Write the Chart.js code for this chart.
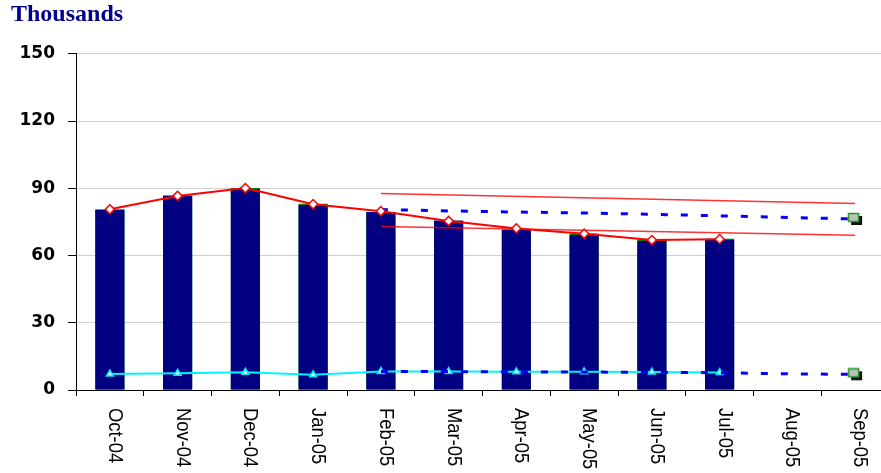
<!DOCTYPE html>
<html>
<head>
<meta charset="utf-8">
<script src="https://cdn.jsdelivr.net/npm/chart.js@4.4.0/dist/chart.umd.min.js"></script>
<style>
  html, body { margin: 0; padding: 0; background: #fff; overflow: hidden; }
  #wrap { width: 898px; height: 473px; }
</style>
</head>
<body>
<div id="wrap"><canvas id="chart" width="898" height="473"></canvas></div>
<script>
// categories
const months = ['Oct-04', 'Nov-04', 'Dec-04', 'Jan-05', 'Feb-05', 'Mar-05',
                'Apr-05', 'May-05', 'Jun-05', 'Jul-05', 'Aug-05', 'Sep-05'];
const yTicks = [0, 30, 60, 90, 120, 150];

// monthly bars (navy in front, green just behind)
const barFront = [80.5, 86.8, 89.6, 82.5, 79.4, 75.6, 71.6, 69.2, 66.5, 66.9, null, null];
const barBack  = [80.3, 86.6, 90.1, 83.1, 79.3, 75.4, 71.4, 69.8, 67.1, 67.5, null, null];

// red line with diamonds
const redLine = [80.6, 86.6, 90.1, 82.9, 79.8, 75.4, 72.1, 69.7, 66.9, 67.3, null, null];

// thin red band lines (Feb-05 to Sep-05)
const bandHigh = [null, null, null, null, 87.7, null, null, null, null, null, null, 83.2];
const bandLow  = [null, null, null, null, 73.0, null, null, null, null, null, null, 69.0];

// blue dashed projections
const projHigh = [null, null, null, null, 80.5, 79.9, 79.4, 79.0, 78.4, 77.7, 77.0, 76.3];
const projLow  = [null, null, null, null, 8.3, 8.2, 8.1, 8.0, 7.9, 7.7, 7.2, 7.0];

// cyan line with triangles
const cyanLine = [7.1, 7.5, 7.9, 6.8, 8.3, 8.2, 8.1, 8.1, 8.0, 7.8, null, null];

// grey square with shadow for the last projected point
function makeSquare() {
    const c = document.createElement('canvas');
    c.width = 16;
    c.height = 14;
    const g = c.getContext('2d');
    g.fillStyle = '#111';
    g.fillRect(4, 4, 11, 9);
    g.fillStyle = '#c0c0c0';
    g.fillRect(1, 1, 11, 9);
    g.strokeStyle = '#1f9a1f';
    g.lineWidth = 1.5;
    g.strokeRect(1.5, 1.5, 10, 8);
    return c;
}
const square = makeSquare();
const lastOnly = (ctx) => ctx.dataIndex === months.length - 1 ? 6 : 0;

// rotated month labels, reading top to bottom
const xLabels = {
    id: 'xLabels',
    afterDraw(chart) {
        const ctx = chart.ctx;
        const xs = chart.scales.x;
        ctx.save();
        ctx.font = '20px "Liberation Sans", Arial, sans-serif';
        ctx.fillStyle = '#000';
        ctx.textAlign = 'left';
        ctx.textBaseline = 'alphabetic';
        months.forEach((m, i) => {
            const x = xs.getPixelForValue(i);
            ctx.save();
            ctx.translate(x - 1, 408);
            ctx.rotate(Math.PI / 2);
            ctx.scale(0.92, 1);
            ctx.fillText(m, 0, 0);
            ctx.restore();
        });
        ctx.restore();
    }
};

new Chart(document.getElementById('chart'), {
    type: 'bar',
    data: {
        labels: months,
        datasets: [
            {
                type: 'line', data: redLine, order: 1,
                borderColor: '#ff0000', borderWidth: 2,
                pointStyle: 'rectRot', pointRadius: 4.6,
                pointBackgroundColor: '#ffffff', pointBorderColor: '#ff0000', pointBorderWidth: 1.5
            },
            {
                type: 'line', data: projHigh, order: 2,
                borderColor: '#0000ff', borderWidth: 3, borderDash: [7, 13],
                pointStyle: square, pointRadius: lastOnly
            },
            {
                type: 'line', data: projLow, order: 2,
                borderColor: '#0000ff', borderWidth: 3, borderDash: [7, 13],
                pointStyle: square, pointRadius: lastOnly
            },
            {
                type: 'line', data: cyanLine, order: 3,
                borderColor: '#00f4ff', borderWidth: 2,
                pointStyle: 'triangle', pointRadius: 4,
                pointBackgroundColor: '#e6ffff', pointBorderColor: '#00e8ff', pointBorderWidth: 1.5
            },
            {
                type: 'line', data: bandHigh, order: 4, spanGaps: true,
                borderColor: 'rgba(255,0,0,0.8)', borderWidth: 1.5, pointRadius: 0
            },
            {
                type: 'line', data: bandLow, order: 4, spanGaps: true,
                borderColor: 'rgba(255,0,0,0.8)', borderWidth: 1.5, pointRadius: 0
            },
            {
                data: barFront, order: 5, grouped: false,
                backgroundColor: '#000080',
                categoryPercentage: 1, barPercentage: 0.43
            },
            {
                data: barBack, order: 6, grouped: false,
                backgroundColor: '#008000',
                categoryPercentage: 1, barPercentage: 0.43
            }
        ]
    },
    options: {
        responsive: false,
        animation: false,
        layout: { padding: { left: 11, right: 2, top: 0, bottom: 0 } },
        plugins: {
            legend: { display: false },
            tooltip: { enabled: false },
            title: {
                display: true,
                text: 'Thousands',
                align: 'start',
                color: '#000090',
                font: { family: 'Liberation Serif', size: 24, weight: 'bold' },
                padding: { top: 0, bottom: 25 }
            }
        },
        scales: {
            x: {
                offset: true,
                grid: { offset: true, drawOnChartArea: false, color: '#000', tickLength: 6 },
                border: { color: '#000', width: 1 },
                ticks: { display: false },
                afterFit(scale) { scale.height = 83; }
            },
            y: {
                min: yTicks[0],
                max: yTicks[yTicks.length - 1],
                afterBuildTicks(scale) { scale.ticks = yTicks.map(v => ({ value: v })); },
                grid: { color: '#cfcfcf', tickColor: '#000', tickLength: 8 },
                border: { color: '#000', width: 1 },
                ticks: {
                    color: '#000',
                    padding: 13,
                    font: { family: 'DejaVu Sans', size: 17, weight: 'bold' }
                },
                afterFit(scale) { scale.width = 65; }
            }
        }
    },
    plugins: [xLabels]
});
</script>
</body>
</html>
